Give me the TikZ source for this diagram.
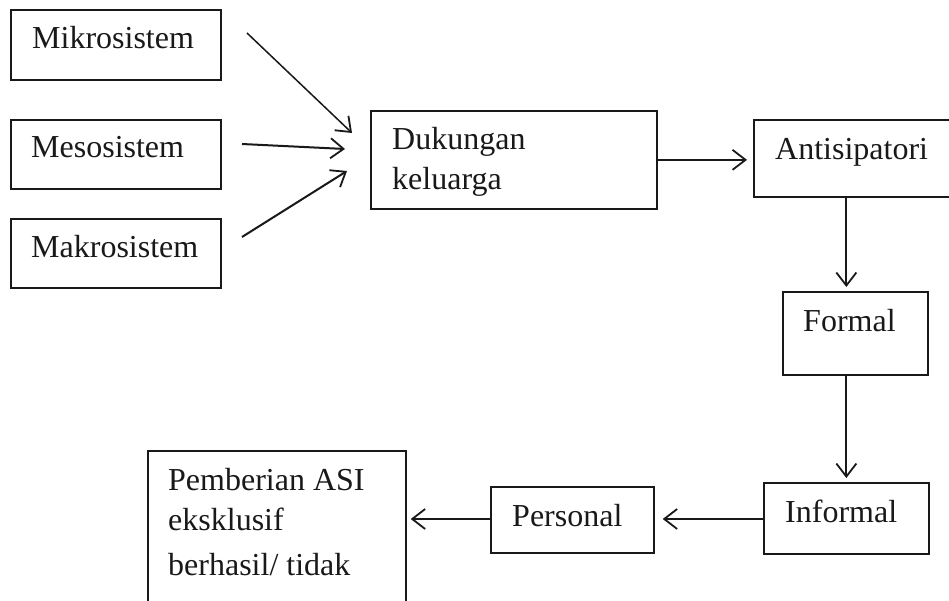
\documentclass[tikz,border=0pt]{standalone}
\usepackage{fontspec}
\setmainfont{Liberation Serif}
\usetikzlibrary{arrows.meta}

\tikzset{
  box/.style={draw=black!90, line width=1.7pt, inner sep=0pt, anchor=north west},
  lbl/.style={inner sep=0pt, anchor=base west, font=\fontsize{32}{42}\selectfont, text=black!90},
  arr/.style={draw=black!90, line width=2pt,
    -{Straight Barb[length=13pt, width=20pt, line width=1.8pt]}},
}

\begin{document}
\begin{tikzpicture}[x=1pt, y=-1pt]
  \useasboundingbox (0,0) rectangle (949,601);
  \clip (0,0) rectangle (949,601);
  \fill[white] (0,0) rectangle (949,601);

  % system levels
  \node[box, minimum width=210pt, minimum height=70pt] (mik) at (10,9) {};
  \node[lbl] (mikt) at (32,49) {Mikrosistem};
  \node[box, minimum width=210pt, minimum height=69pt] (mes) at (10,119) {};
  \node[lbl] (mest) at (31,158) {Mesosistem};
  \node[box, minimum width=210pt, minimum height=69pt] (mak) at (10,218) {};
  \node[lbl] (makt) at (31,258) {Makrosistem};

  % family support
  \node[box, minimum width=286pt, minimum height=98pt] (duk) at (370,110) {};
  \node[lbl] (dukt1) at (392,150) {Dukungan};
  \node[lbl] (dukt2) at (392,190) {keluarga};

  % support types
  \node[box, minimum width=210pt, minimum height=77pt] (ant) at (753,119) {};
  \node[lbl] (antt) at (775,160) {Antisipatori};
  \node[box, minimum width=145pt, minimum height=83pt] (frm) at (782,291) {};
  \node[lbl] (frmt) at (803,331) {Formal};
  \node[box, minimum width=165pt, minimum height=71pt] (inf) at (763,482) {};
  \node[lbl] (inft) at (785,522) {Informal};
  \node[box, minimum width=163pt, minimum height=66pt] (per) at (490,486) {};
  \node[lbl] (pert) at (512,526) {Personal};

  % outcome
  \node[box, minimum width=258pt, minimum height=170pt] (asi) at (147,450) {};
  \node[lbl] (asit1) at (168,490) {Pemberian ASI};
  \node[lbl] (asit2) at (168,530) {eksklusif};
  \node[lbl] (asit3) at (168,575) {berhasil/ tidak};

  % free ends of the converging arrows
  \coordinate (mikA) at (247,33);
  \coordinate (mikB) at (352,133);
  \coordinate (mesA) at (242,144);
  \coordinate (mesB) at (345,149);
  \coordinate (makA) at (242,237);
  \coordinate (makB) at (347,171);

  \draw[arr, line width=1.5pt] (mikA) -- (mikB);
  \draw[arr] (mesA) -- (mesB);
  \draw[arr] (makA) -- (makB);

  \draw[arr, shorten >=6pt] (duk.east) -- (duk.east -| ant.west);
  \draw[arr, shorten >=4pt] (ant.south -| inf.north) -- (frm.north -| inf.north);
  \draw[arr, shorten >=4pt] (frm.south -| inf.north) -- (inf.north);
  \draw[arr, shorten >=8pt] (inf.west |- 0,519) -- (per.east |- 0,519);
  \draw[arr, shorten >=4pt] (per.west |- 0,519) -- (asi.east |- 0,519);
\end{tikzpicture}
\end{document}
